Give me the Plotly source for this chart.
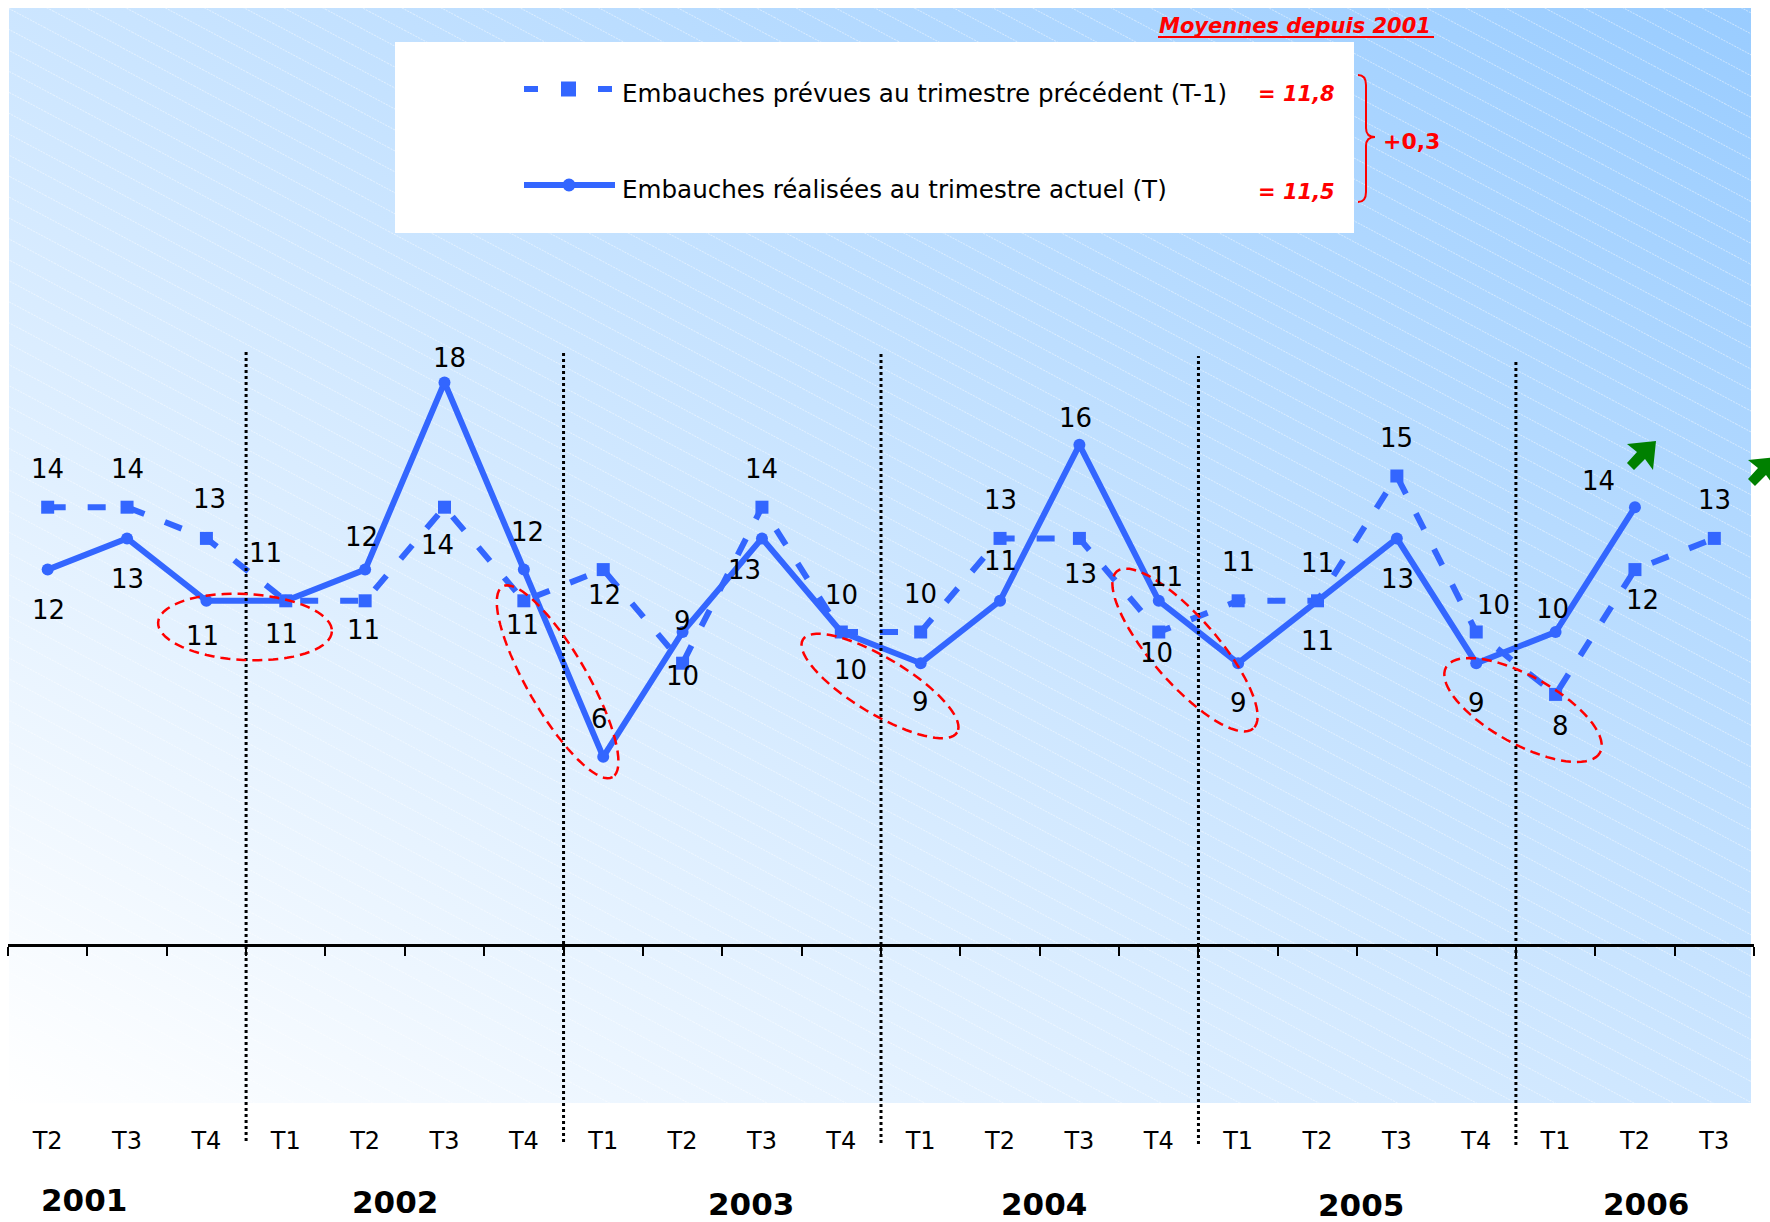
import base64
import numpy as np
import plotly.graph_objects as go

W, H = 1770, 1222

# ---------------- data ----------------
quarters = ["T2", "T3", "T4", "T1", "T2", "T3", "T4", "T1", "T2", "T3", "T4",
            "T1", "T2", "T3", "T4", "T1", "T2", "T3", "T4", "T1", "T2", "T3"]
years = ["2001", "2002", "2003", "2004", "2005", "2006"]
prevues = [14, 14, 13, 11, 11, 14, 11, 12, 9, 14, 10, 10, 13, 13, 10, 11, 11, 15, 10, 8, 12, 13]
realisees = [12, 13, 11, 11, 12, 18, 12, 6, 10, 13, 10, 9, 11, 16, 11, 9, 11, 13, 9, 10, 14, None]
labels_prevues = ["14", "14", "13", "11", "11", "14", "11", "12", "10", "14", "10", "10",
                  "13", "13", "10", "11", "11", "15", "10", "8", "12", "13"]
labels_realisees = ["12", "13", "11", "11", "12", "18", "12", "6", "9", "13", "10", "9",
                    "11", "16", "11", "9", "11", "13", "9", "10", "14", ""]
name_prevues = "Embauches prévues au trimestre précédent (T-1)"
name_realisees = "Embauches réalisées au trimestre actuel (T)"
moyennes_title = "Moyennes depuis 2001"
moy_prevues = "= 11,8"
moy_realisees = "= 11,5"
ecart = "+0,3"

# ---------------- layout helpers (pixel -> paper) ----------------
def PX(x):
    return x / W

def PY(y):
    return 1 - y / H

BLUE = "#3366FF"
RED = "#FF0000"
FONT = "DejaVu Sans"

# label offsets (screen px: dx, dy)
off_prev = [(0, -38), (0, -38), (3, -39), (-20, -48), (-2, 29), (-7, 38), (-1, 24), (1, 25),
            (0, 13), (0, -38), (0, -37), (0, -38), (0, -38), (1, 36), (-2, 21), (0, -39),
            (0, -38), (0, -38), (17, -27), (5, 32), (8, 30), (0, -38)]
off_real = [(1, 40), (0, 41), (-4, 35), (-4, 33), (-4, -33), (5, -24), (4, -38), (-4, -38),
            (0, -11), (-17, 32), (9, 38), (0, 39), (0, -40), (-4, -27), (8, -24), (0, 40),
            (0, 40), (1, 41), (0, 40), (-3, -23), (-36, -26), (0, 0)]

x_idx = list(range(len(quarters)))

fig = go.Figure()
fig.add_trace(go.Scatter(
    x=x_idx, y=prevues, name=name_prevues, mode="lines+markers",
    line=dict(color=BLUE, width=6, dash="18px,22px"),
    marker=dict(symbol="square", size=13, color=BLUE),
    showlegend=False, hoverinfo="skip"))
fig.add_trace(go.Scatter(
    x=x_idx, y=realisees, name=name_realisees, mode="lines+markers",
    line=dict(color=BLUE, width=6),
    marker=dict(symbol="circle", size=12, color=BLUE),
    showlegend=False, hoverinfo="skip", connectgaps=False))

LBL = 26
annotations = []
for i, (v, t) in enumerate(zip(prevues, labels_prevues)):
    dx, dy = off_prev[i]
    annotations.append(dict(x=i, y=v, xref="x", yref="y", text=t, showarrow=False,
                            xshift=dx, yshift=-dy, font=dict(family=FONT, size=LBL, color="black")))
for i, (v, t) in enumerate(zip(realisees, labels_realisees)):
    if v is None:
        continue
    dx, dy = off_real[i]
    annotations.append(dict(x=i, y=v, xref="x", yref="y", text=t, showarrow=False,
                            xshift=dx, yshift=-dy, font=dict(family=FONT, size=LBL, color="black")))

# year labels
year_x = [0.46, 4.37, 8.86, 12.56, 16.55, 20.14]
year_y = [1200, 1202, 1204, 1204, 1205, 1204]
for yr, xx, yy in zip(years, year_x, year_y):
    annotations.append(dict(x=xx, y=PY(yy), xref="x", yref="paper", text="<b>%s</b>" % yr,
                            showarrow=False, yanchor="middle",
                            font=dict(family=FONT, size=31, color="black")))

# legend texts
annotations.append(dict(x=PX(620), y=PY(94), xref="paper", yref="paper", text=name_prevues,
                        xanchor="left", yanchor="middle", showarrow=False,
                        font=dict(family=FONT, size=24.6, color="black")))
annotations.append(dict(x=PX(620), y=PY(190), xref="paper", yref="paper", text=name_realisees,
                        xanchor="left", yanchor="middle", showarrow=False,
                        font=dict(family=FONT, size=24.6, color="black")))
annotations.append(dict(x=PX(1296), y=PY(94), xref="paper", yref="paper", text="<b><i>%s</i></b>" % moy_prevues,
                        xanchor="center", yanchor="middle", showarrow=False,
                        font=dict(family=FONT, size=21, color=RED)))
annotations.append(dict(x=PX(1296), y=PY(192), xref="paper", yref="paper", text="<b><i>%s</i></b>" % moy_realisees,
                        xanchor="center", yanchor="middle", showarrow=False,
                        font=dict(family=FONT, size=21, color=RED)))
annotations.append(dict(x=PX(1411), y=PY(141), xref="paper", yref="paper", text="<b>%s</b>" % ecart,
                        xanchor="center", yanchor="middle", showarrow=False,
                        font=dict(family=FONT, size=22, color=RED)))
annotations.append(dict(x=PX(1295), y=PY(26), xref="paper", yref="paper", text="<b><i>%s</i></b>" % moyennes_title,
                        xanchor="center", yanchor="middle", showarrow=False,
                        font=dict(family=FONT, size=21, color=RED)))

shapes = []
# underline of the title
shapes.append(dict(type="line", xref="paper", yref="paper", x0=PX(1158), x1=PX(1434),
                   y0=PY(37), y1=PY(37), line=dict(color=RED, width=2)))

# year separators (dotted)
sep_x = [2.5, 6.5, 10.5, 14.5, 18.5]
sep_top = [350, 350, 352, 356, 361]
sep_bot = [1141, 1142, 1143, 1144, 1145]
for sx, st, sb in zip(sep_x, sep_top, sep_bot):
    shapes.append(dict(type="line", xref="x", yref="paper", x0=sx, x1=sx,
                       y0=PY(sb), y1=PY(st), line=dict(color="black", width=3, dash="dot"),
                       layer="above"))

# legend box and samples
shapes.append(dict(type="rect", xref="paper", yref="paper", x0=PX(395), x1=PX(1354),
                   y0=PY(233), y1=PY(42), fillcolor="white", line=dict(width=0), layer="above"))
shapes.append(dict(type="line", xref="paper", yref="paper", x0=PX(524), x1=PX(615),
                   y0=PY(89), y1=PY(89), line=dict(color=BLUE, width=6, dash="14px,23px"), layer="above"))
shapes.append(dict(type="rect", xref="paper", yref="paper", x0=PX(561), x1=PX(576),
                   y0=PY(96.5), y1=PY(81.5), fillcolor=BLUE, line=dict(width=0), layer="above"))
shapes.append(dict(type="line", xref="paper", yref="paper", x0=PX(524), x1=PX(615),
                   y0=PY(185), y1=PY(185), line=dict(color=BLUE, width=6), layer="above"))
shapes.append(dict(type="circle", xref="paper", yref="paper", x0=PX(562.5), x1=PX(575.5),
                   y0=PY(191.5), y1=PY(178.5), fillcolor=BLUE, line=dict(width=0), layer="above"))

# brace
bp = "M %f %f " % (PX(1358), PY(75))
bp += "Q %f %f %f %f " % (PX(1366), PY(75), PX(1366), PY(85))
bp += "L %f %f " % (PX(1366), PY(128))
bp += "Q %f %f %f %f " % (PX(1366), PY(137), PX(1375), PY(137))
bp += "Q %f %f %f %f " % (PX(1366), PY(137), PX(1366), PY(146))
bp += "L %f %f " % (PX(1366), PY(192))
bp += "Q %f %f %f %f" % (PX(1366), PY(202), PX(1358), PY(202))
shapes.append(dict(type="path", xref="paper", yref="paper", path=bp,
                   line=dict(color=RED, width=2), layer="above"))

# red dashed ellipses (pixel centre, semi axes, angle deg clockwise)
ellipses = [(245, 627, 87, 33, 3), (557.6, 681.8, 110, 30, 60), (880, 686, 90, 28, 31),
            (1185, 650, 104, 33, 49), (1523, 710, 88, 34, 29)]
tt = np.linspace(0, 2 * np.pi, 73)
for cx, cy, a, b, ang in ellipses:
    th = np.radians(ang)
    px = cx + a * np.cos(th) * np.cos(tt) - b * np.sin(th) * np.sin(tt)
    py = cy + a * np.sin(th) * np.cos(tt) + b * np.cos(th) * np.sin(tt)
    path = "M " + " L ".join("%f %f" % (PX(u), PY(v)) for u, v in zip(px, py)) + " Z"
    shapes.append(dict(type="path", xref="paper", yref="paper", path=path,
                       line=dict(color=RED, width=2.5, dash="10px,6px"), layer="above"))

# green arrows
arrow = [(1656, 441), (1627, 444), (1637, 452), (1627, 463), (1634, 470), (1645, 459), (1653, 470)]
for ox, oy in [(0, 0), (121, 16)]:
    path = "M " + " L ".join("%f %f" % (PX(u + ox), PY(v + oy)) for u, v in arrow) + " Z"
    shapes.append(dict(type="path", xref="paper", yref="paper", path=path,
                       fillcolor="#008000", line=dict(width=0), layer="above"))

# background gradient + hatch as svg image
bx0, by0, bx1, by1 = 9, 8, 1751, 1103
bw, bh = bx1 - bx0, by1 - by0
svg = ('<svg xmlns="http://www.w3.org/2000/svg" width="%d" height="%d" viewBox="0 0 %d %d" preserveAspectRatio="none">'
       '<defs><linearGradient id="g" x1="0" y1="1" x2="1" y2="0">'
       '<stop offset="0" stop-color="#FFFFFF"/><stop offset="1" stop-color="#99CCFF"/></linearGradient>'
       '<pattern id="p" width="40" height="18.5" patternUnits="userSpaceOnUse" patternTransform="rotate(28)">'
       '<line x1="0" y1="0.5" x2="40" y2="0.5" stroke="#FFFFFF" stroke-opacity="0.45" stroke-width="1" stroke-dasharray="2,1"/>'
       '</pattern></defs>'
       '<rect width="%d" height="%d" fill="url(#g)"/><rect width="%d" height="%d" fill="url(#p)"/></svg>'
       % (bw, bh, bw, bh, bw, bh, bw, bh))
src = "data:image/svg+xml;base64," + base64.b64encode(svg.encode()).decode()

fig.update_layout(
    width=W, height=H, margin=dict(l=0, r=0, t=0, b=0),
    paper_bgcolor="white", plot_bgcolor="rgba(0,0,0,0)",
    images=[dict(source=src, xref="paper", yref="paper", x=PX(bx0), y=PY(by0),
                 sizex=bw / W, sizey=bh / H, sizing="stretch", layer="below",
                 xanchor="left", yanchor="top")],
    xaxis=dict(domain=[PX(8), PX(1754)], range=[-0.5, len(quarters) - 0.5],
               tickmode="array", tickvals=x_idx, ticktext=quarters, ticks="",
               ticklabelstandoff=174, showgrid=False, zeroline=False,
               showline=True, linecolor="black", linewidth=2.5,
               tickfont=dict(family=FONT, size=24, color="black"),
               minor=dict(tickmode="array", tickvals=[i - 0.5 for i in range(len(quarters) + 1)],
                          ticks="outside", ticklen=9, tickwidth=2, tickcolor="black", showgrid=False)),
    yaxis=dict(domain=[PY(944), PY(8)], range=[0, 30], visible=False),
    annotations=annotations, shapes=shapes, showlegend=False,
)

fig.write_html("out.html", config={"displayModeBar": False, "staticPlot": True},
               post_script="document.body.style.margin='0px';document.body.style.overflow='hidden';")
